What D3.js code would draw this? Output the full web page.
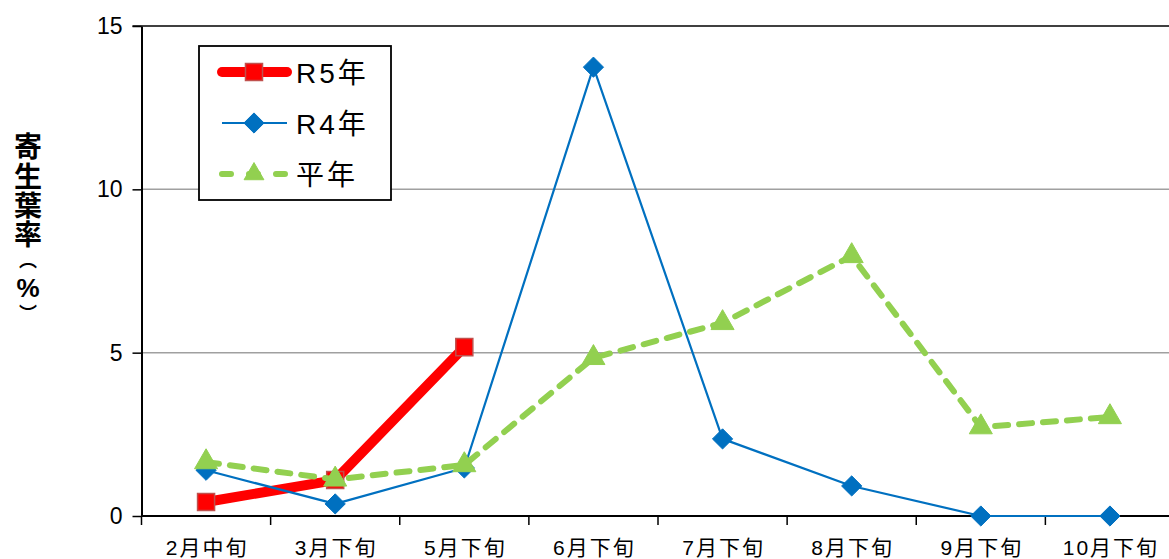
<!DOCTYPE html>
<html>
<head>
<meta charset="utf-8">
<script src="https://cdn.jsdelivr.net/npm/d3@7/dist/d3.min.js"></script>
<style>
  html, body { margin: 0; padding: 0; background: #fff; }
  svg { display: block; }
  text { font-family: "Liberation Sans", Arial, "Noto Sans CJK JP", sans-serif; }
</style>
</head>
<body>
<svg id="chart" width="1169" height="559"></svg>
<script>
// Survey periods along the x axis
const categories = ["2月中旬", "3月下旬", "5月下旬", "6月下旬", "7月下旬", "8月下旬", "9月下旬", "10月下旬"];
// 寄生葉率 (%) per series
const r5Values = [0.43, 1.1, 5.17];
const r4Values = [1.4, 0.37, 1.47, 13.74, 2.36, 0.92, 0, 0];
const normalValues = [1.65, 1.12, 1.56, 4.84, 5.91, 7.96, 2.72, 3.03];
const yTicks = [0, 5, 10, 15];
const seriesNames = ["R5年", "R4年", "平年"];
// Vertical title, one glyph per line (vertical bracket forms)
const titleChars = ["寄", "生", "葉", "率", "︵", "%", "︶"];

const svg = d3.select("#chart");
const plotLeft = 141.5, plotTop = 26, plotBottom = 516, plotRight = 1174.5;

const x = d3.scaleBand().domain(categories).range([plotLeft, plotRight]).padding(0);
const y = d3.scaleLinear().domain([0, 15]).range([plotBottom, plotTop]);
const cx = d => x(d) + x.bandwidth() / 2;

// Horizontal gridlines
svg.append("g").selectAll("line")
  .data(yTicks.filter(t => t > 0 && t < 15))
  .join("line")
  .attr("x1", plotLeft).attr("x2", 1169)
  .attr("y1", d => y(d)).attr("y2", d => y(d))
  .attr("stroke", "#a0a0a0").attr("stroke-width", 1.5);

// Top border line
svg.append("line")
  .attr("x1", plotLeft - 9).attr("x2", 1169)
  .attr("y1", y(15)).attr("y2", y(15))
  .attr("stroke", "#000").attr("stroke-width", 1.5);

// Y axis
const yAxis = svg.append("g")
  .attr("transform", `translate(${plotLeft},0)`)
  .call(d3.axisLeft(y).tickValues(yTicks).tickSize(9).tickPadding(10).tickSizeOuter(0));
yAxis.select(".domain").attr("stroke", "#000").attr("stroke-width", 2);
yAxis.selectAll(".tick line").attr("stroke", "#000").attr("stroke-width", 1.5);
yAxis.selectAll(".tick text").attr("font-size", 23).attr("fill", "#000")
  .attr("font-family", "'Open Sans', 'Liberation Sans', sans-serif");

// X axis with ticks at category boundaries
const xAxisG = svg.append("g").attr("transform", `translate(0,${plotBottom})`);
xAxisG.append("line").attr("x1", plotLeft).attr("x2", 1169).attr("y1", 0).attr("y2", 0)
  .attr("stroke", "#000").attr("stroke-width", 2);
const boundaries = categories.map(c => x(c)).concat([plotRight]);
xAxisG.selectAll("line.tk").data(boundaries.filter(b => b <= 1169)).join("line")
  .attr("class", "tk")
  .attr("x1", d => d).attr("x2", d => d).attr("y1", 0).attr("y2", 9)
  .attr("stroke", "#000").attr("stroke-width", 1.5);
xAxisG.selectAll("text").data(categories).join("text")
  .attr("x", d => cx(d) + 1).attr("y", 39)
  .attr("text-anchor", "middle")
  .attr("font-size", 21).attr("letter-spacing", 2).attr("fill", "#000")
  .attr("font-family", "'Noto Sans CJK JP', sans-serif")
  .text(d => d);

// Y axis title
const titleY = [147, 177, 206, 235, 261, 288, 314];
const titleSize = [28, 28, 28, 28, 18, 26, 18];
svg.append("g").selectAll("text").data(titleChars).join("text")
  .attr("x", 28).attr("y", (d, i) => titleY[i])
  .attr("text-anchor", "middle").attr("dominant-baseline", "central")
  .attr("font-size", (d, i) => titleSize[i])
  .attr("font-weight", "bold")
  .attr("fill", "#000")
  .attr("font-family", (d, i) => i === 5 ? "'Liberation Sans', sans-serif" : "'Noto Sans CJK JP', sans-serif")
  .text(d => d);

// Marker shapes
const square = d3.symbol().type(d3.symbolSquare).size(290);
const diamond = d3.symbol().type(d3.symbolDiamond2).size(260);
const triangle = d3.symbol().type(d3.symbolTriangle).size(230);
const smallTriangle = d3.symbol().type(d3.symbolTriangle).size(170);

const line = d3.line().x(d => cx(d.c)).y(d => y(d.v));
const pts = vals => vals.map((v, i) => ({ c: categories[i], v }));

const styles = [
  { name: seriesNames[0], data: pts(r5Values), color: "#ff0000", width: 10, dash: null, cap: "round",
    sym: square, lsym: square, fill: "#ff0000", mstroke: "#c0504d", mwidth: 1.5 },
  { name: seriesNames[1], data: pts(r4Values), color: "#0070c0", width: 2.2, dash: null, cap: "butt",
    sym: diamond, lsym: diamond, fill: "#0070c0", mstroke: "#0070c0", mwidth: 1 },
  { name: seriesNames[2], data: pts(normalValues), color: "#92d050", width: 6, dash: "13,11", cap: "round",
    sym: triangle, lsym: smallTriangle, fill: "#92d050", mstroke: "#92d050", mwidth: 1 }
];

styles.forEach(s => {
  svg.append("path").datum(s.data)
    .attr("d", line)
    .attr("fill", "none")
    .attr("stroke", s.color)
    .attr("stroke-width", s.width)
    .attr("stroke-linejoin", "round")
    .attr("stroke-linecap", s.cap)
    .attr("stroke-dasharray", s.dash);
  svg.append("g").selectAll("path").data(s.data).join("path")
    .attr("transform", d => `translate(${cx(d.c)},${y(d.v)})`)
    .attr("d", s.sym)
    .attr("fill", s.fill)
    .attr("stroke", s.mstroke)
    .attr("stroke-width", s.mwidth);
});

// Legend
const legend = svg.append("g");
legend.append("rect")
  .attr("x", 199).attr("y", 46).attr("width", 192).attr("height", 154)
  .attr("fill", "#fff").attr("stroke", "#000").attr("stroke-width", 1.8);
styles.forEach((s, i) => {
  const ly = 72 + i * 51;
  legend.append("line")
    .attr("x1", 222).attr("x2", 287).attr("y1", ly).attr("y2", ly)
    .attr("stroke", s.color).attr("stroke-width", s.width)
    .attr("stroke-linecap", s.cap)
    .attr("stroke-dasharray", s.dash ? "9,18" : null);
  legend.append("path")
    .attr("transform", `translate(254,${ly})`)
    .attr("d", s.lsym)
    .attr("fill", s.fill).attr("stroke", s.mstroke).attr("stroke-width", s.mwidth);
  legend.append("text")
    .attr("x", 296).attr("y", ly + 1).attr("dominant-baseline", "central")
    .attr("font-size", 28).attr("fill", "#000")
    .attr("letter-spacing", 3)
    .text(s.name);
});
</script>
</body>
</html>
